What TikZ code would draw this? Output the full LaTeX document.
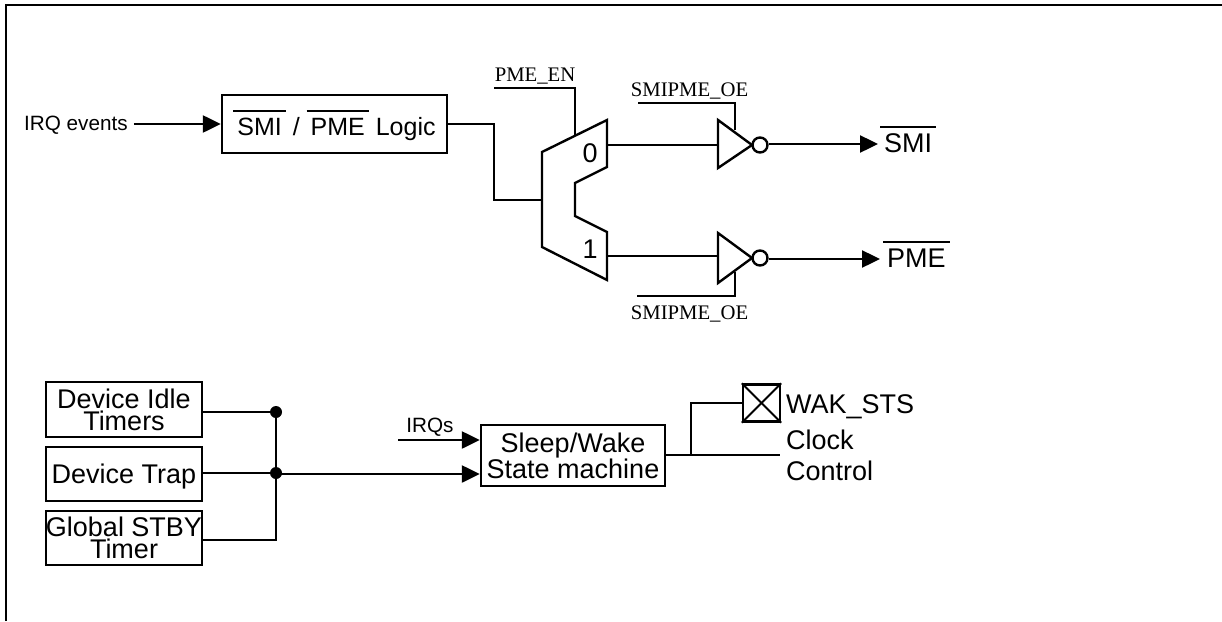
\documentclass[tikz,border=0pt]{standalone}
\usepackage{fontspec}
\setmainfont{Liberation Sans}
\newfontfamily\timesface{Liberation Serif}
\usetikzlibrary{positioning,arrows.meta}
\newsavebox{\barbox}
\newcommand{\overbar}[2]{\sbox{\barbox}{#2}\kern4pt\rlap{\kern-4pt\smash{\raisebox{#1}{\rule{\dimexpr\wd\barbox+8pt\relax}{2pt}}}}\usebox{\barbox}\kern4pt\relax}

\begin{document}
\begin{tikzpicture}[
    x=1pt, y=-1pt,
    every node/.style={font=\fontsize{27}{22}\selectfont, inner sep=0pt},
    blockbox/.style={rectangle, draw=black, line width=2.4pt, fill=white, align=center},
    wire/.style={line width=2.4pt, line join=miter},
    arrow/.style={wire, -{Triangle[length=18pt, width=17pt]}},
    dot/.style={circle, fill=black, minimum size=12pt},
    bubble/.style={circle, draw=black, line width=2.4pt, minimum size=15pt},
    smalllabel/.style={font=\fontsize{20.7}{24}\selectfont, anchor=base},
    seriflabel/.style={font=\timesface\fontsize{20.7}{24}\selectfont, anchor=base},
]
\useasboundingbox (0,0) rectangle (1222,621);

% Frame
\coordinate (framebl) at (6,621);
\coordinate (frametl) at (6,5);
\coordinate (frametr) at (1222,5);
\draw[wire] (framebl) -- (frametl) -- (frametr);

% Upper path
\node[smalllabel, anchor=base west] (irqevents) at (24,130) {IRQ events};
\node[blockbox, minimum width=225pt, minimum height=58pt, text height=22pt, text depth=0pt, font=\fontsize{25}{25}\selectfont] (logic) at (334.5,124)
    {\overbar{23pt}{SMI} / \overbar{23pt}{PME} Logic};
\draw[arrow] ([xshift=6pt]irqevents.east |- logic.west) -- (logic.west);

% Mux
\coordinate (muxin) at (542,200);
\coordinate (muxen) at (575,136);
\draw[wire, line join=miter] (542,152) -- (607,120) -- (607,167) -- (575,183) -- (575,216)
    -- (607,232) -- (607,280) -- (542,247) -- cycle;
\node[anchor=base] (muxzero) at (590,162) {0};
\node[anchor=base] (muxone) at (590,258) {1};
\draw[wire] (logic.east) -- (494,124) |- (muxin);
\coordinate (pmeenend) at (494,88);
\node[seriflabel] (pmeen) at (535,81) {PME\_EN};
\draw[wire] (pmeenend) -| (muxen);

% Inverters
\draw[wire] (718,120) -- (718,168) -- (752,145) -- cycle;
\draw[wire] (718,233) -- (718,283) -- (752,258) -- cycle;
\node[bubble] (bubbletop) at (760,145) {};
\node[bubble] (bubblebot) at (760,258) {};
\coordinate (muxoutzero) at (607,145);
\coordinate (muxoutone) at (607,256);
\coordinate (invintop) at (718,145);
\coordinate (invinbot) at (718,256);
\draw[wire] (muxoutzero) -- (invintop);
\draw[wire] (muxoutone) -- (invinbot);

\node[seriflabel] (oetop) at (689.5,96) {SMIPME\_OE};
\node[seriflabel] (oebot) at (689.5,319) {SMIPME\_OE};
\coordinate (oetopstart) at (638,103);
\coordinate (oetopend) at (735,130);
\coordinate (oebotstart) at (637,296);
\coordinate (oebotend) at (735,272);
\draw[wire] (oetopstart) -| (oetopend);
\draw[wire] (oebotstart) -| (oebotend);

% Outputs
\node[anchor=base west] (smiout) at (880,152) {\overbar{24pt}{SMI}};
\node[anchor=base west] (pmeout) at (883,267) {\overbar{24pt}{PME}};
\coordinate (smitip) at (878,144);
\coordinate (pmetip) at (880,259);
\draw[arrow] (bubbletop.east |- smitip) -- (smitip);
\draw[arrow] (bubblebot.east |- pmetip) -- (pmetip);

% Lower path
\node[blockbox, minimum width=156pt, minimum height=55pt] (idle) at (124,409.5) {Device Idle\\Timers};
\node[blockbox, minimum width=156pt, minimum height=54pt, text depth=0pt] (trap) at (124,474) {Device Trap};
\node[blockbox, minimum width=156pt, minimum height=54pt] (stby) at (124,538) {Global STBY\\Timer};
\node[dot] (dotidle) at (276,412) {};
\node[dot] (dottrap) at (276,473) {};
\coordinate (stbyturn) at (276,540);
\draw[wire] (idle.east |- dotidle) -- (dotidle);
\draw[wire] (trap.east |- dottrap) -- (dottrap);
\draw[wire] (stby.east |- stbyturn) -- (stbyturn) -- (dotidle);

\node[blockbox, minimum width=184pt, minimum height=61pt, font=\fontsize{27}{25}\selectfont] (sleep) at (573,455.5)
    {Sleep/Wake\\State machine};
\coordinate (trapjog) at (308,474);
\draw[arrow] (dottrap) -- (trapjog -| dottrap) -- (sleep.west |- trapjog);
\coordinate (irqsstart) at (398,440);
\node[smalllabel] (irqs) at (430,432) {IRQs};
\draw[arrow] (irqsstart) -- (sleep.west |- irqsstart);

% Status and clock
\node[blockbox, minimum size=37pt] (wakbox) at (761.5,403) {};
\draw[line width=1.8pt] (wakbox.north west) -- (wakbox.south east);
\draw[line width=1.8pt] (wakbox.north east) -- (wakbox.south west);
\node[anchor=base west] (wakstsl) at (786,413) {WAK\_STS};
\coordinate (clockend) at (780,455);
\coordinate (branch) at (691,455);
\draw[wire] (sleep.east |- clockend) -- (clockend);
\draw[wire] (branch) |- (wakbox.west);
\node[anchor=base west] (clocktxt) at (786,449) {Clock};
\node[anchor=base west] (controltxt) at (786,480) {Control};

\end{tikzpicture}
\end{document}
